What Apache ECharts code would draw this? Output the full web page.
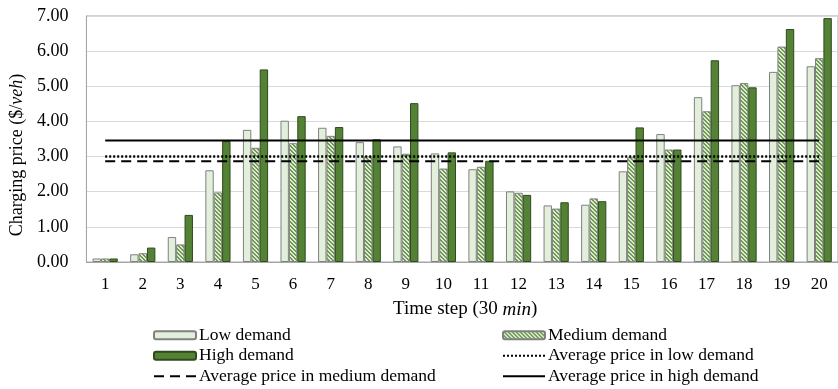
<!DOCTYPE html>
<html>
<head>
<meta charset="utf-8">
<script src="https://cdn.jsdelivr.net/npm/echarts@6/dist/echarts.min.js"></script>
<style>
html,body{margin:0;padding:0;background:#fff;}
#chart{width:838px;height:389px;}
</style>
</head>
<body>
<div id="chart"></div>
<script>
const categories = ['1','2','3','4','5','6','7','8','9','10','11','12','13','14','15','16','17','18','19','20'];
const lowDemand = [0.10,0.22,0.71,2.61,3.76,4.02,3.82,3.41,3.29,3.09,2.64,2.01,1.61,1.63,2.58,3.64,4.69,5.03,5.41,5.57];
const mediumDemand = [0.10,0.25,0.50,1.98,3.25,3.38,3.59,3.01,3.08,2.66,2.71,1.97,1.52,1.81,2.98,3.20,4.29,5.09,6.13,5.80];
const highDemand = [0.10,0.41,1.34,3.44,5.48,4.15,3.84,3.49,4.52,3.12,2.88,1.91,1.70,1.73,3.83,3.20,5.74,4.97,6.63,6.94];
const avgLow = 3.00;
const avgMedium = 2.87;
const avgHigh = 3.46;
const yTicks = [0,1,2,3,4,5,6,7];

// hatch pattern for medium demand
const pc = document.createElement('canvas');
pc.width = 4; pc.height = 4;
const pctx = pc.getContext('2d');
pctx.fillStyle = '#dcebd2';
pctx.fillRect(0,0,4,4);
pctx.fillStyle = '#6f9a52';
for (let i = 0; i < 4; i++) { pctx.fillRect(i, i, 1, 1); pctx.fillRect((i+1)%4, i, 1, 1); }

const font = '"Liberation Serif", "Times New Roman", serif';
const chart = echarts.init(document.getElementById('chart'), null, {renderer:'canvas'});
const first = categories[0], last = categories[categories.length-1];

function avgSeries(name, v, type, width) {
  return {
    name: name, type: 'line', data: [[first, v],[last, v]],
    symbol: 'none', z: 5, silent: true,
    lineStyle: {color:'#000', width: width, type: type},
    itemStyle: {color:'rgba(0,0,0,0)', borderWidth: 0}
  };
}
function lineLegend(name) { return {name: name, itemStyle: {opacity: 0, color:'rgba(0,0,0,0)', borderWidth: 0}}; }

const legendText = {color:'#000', fontSize: 17.5, fontFamily: font, lineHeight: 20.5, padding:[0,0,0,-2]};

chart.setOption({
  animation: false,
  textStyle: {fontFamily: font},
  grid: {left: 86, top: 16, bottom: 127, right: -4, show: true, borderColor: '#a6a6a6', borderWidth: 1},
  xAxis: {
    type: 'category', data: categories,
    axisTick: {show: false},
    axisLine: {lineStyle: {color: '#a6a6a6'}},
    axisLabel: {color:'#000', fontSize: 17, fontFamily: font, margin: 14},
    name: 'Time step (30 {i|min})', nameLocation: 'middle', nameGap: 38,
    nameTextStyle: {color:'#000', fontSize: 19, fontFamily: font, padding: [0,0,0,6],
      rich: {i: {fontStyle:'italic', fontSize: 19, fontFamily: font, color:'#000'}}}
  },
  yAxis: {
    type: 'value', min: yTicks[0], max: yTicks[yTicks.length-1], interval: 1,
    axisLine: {show: true, lineStyle: {color:'#a6a6a6'}},
    axisTick: {show: false},
    splitLine: {lineStyle: {color:'#d9d9d9'}},
    axisLabel: {color:'#000', fontSize: 18, fontFamily: font, margin: 18, formatter: v => v.toFixed(2)},
    name: 'Charging price ($/{i|veh})', nameLocation: 'middle', nameGap: 54,
    nameTextStyle: {color:'#000', fontSize: 18, fontFamily: font, padding: [0, 32, 0, 0],
      rich: {i: {fontStyle:'italic', fontSize: 18, fontFamily: font, color:'#000'}}}
  },
  legend: [
    {
      orient: 'vertical', left: 153, top: 325, padding: 0, height: 70, itemWidth: 42, itemHeight: 8, itemGap: 0,
      data: ['Low demand','High demand', lineLegend('Average price in medium demand')],
      textStyle: legendText
    },
    {
      orient: 'vertical', left: 502, top: 325, padding: 0, height: 70, itemWidth: 42, itemHeight: 8, itemGap: 0,
      data: ['Medium demand', lineLegend('Average price in low demand'), lineLegend('Average price in high demand')],
      textStyle: legendText
    }
  ],
  series: [
    {name:'Low demand', type:'bar', data: lowDemand, barWidth: 8.4, barGap: '0%',
      itemStyle: {color:'#e2efda', borderColor:'#808080', borderWidth: 1}},
    {name:'Medium demand', type:'bar', data: mediumDemand, barWidth: 8.4, barGap: '0%',
      itemStyle: {color: {image: pc, repeat: 'repeat'}, borderColor:'#808080', borderWidth: 1}},
    {name:'High demand', type:'bar', data: highDemand, barWidth: 8.4, barGap: '0%',
      itemStyle: {color:'#548235', borderColor:'#2f4a1e', borderWidth: 1}},
    avgSeries('Average price in low demand', avgLow, [2,2], 2.5),
    avgSeries('Average price in medium demand', avgMedium, [10,6], 2),
    avgSeries('Average price in high demand', avgHigh, 'solid', 2)
  ]
});
</script>
</body>
</html>
